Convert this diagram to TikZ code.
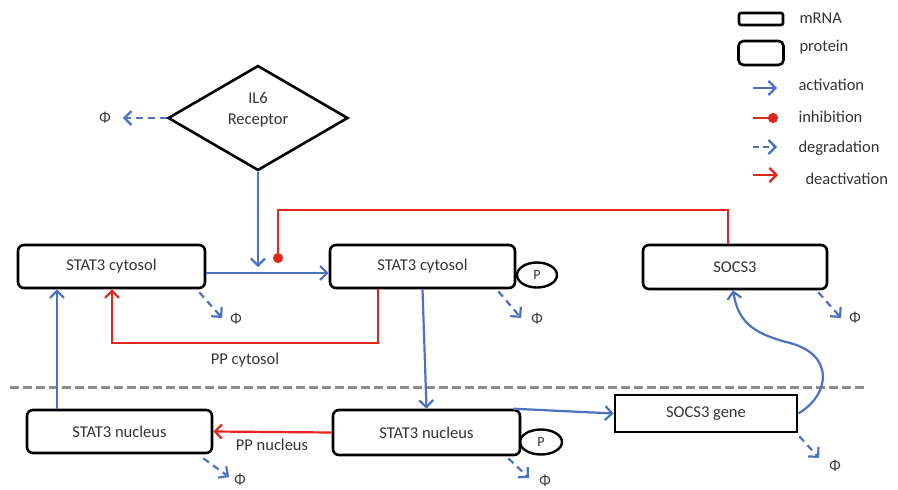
\documentclass[tikz,border=0pt]{standalone}
\usepackage{fontspec}
\setmainfont{Carlito}
\usetikzlibrary{arrows.meta,shapes.geometric}
\definecolor{actblue}{HTML}{4A72C0}
\definecolor{inhred}{HTML}{E3261C}
\definecolor{txtgray}{HTML}{333333}
\begin{document}
\begin{tikzpicture}[x=1pt,y=-1pt,
  every node/.style={text=txtgray,font=\fontsize{16.5}{19}\selectfont},
  protein/.style={draw=black,line width=2.6pt,rounded corners=6pt,minimum height=43pt,inner sep=0pt},
  mrna/.style={draw=black,line width=2.6pt,minimum height=37pt,inner sep=0pt},
  phos/.style={draw=black,line width=2.4pt,ellipse,minimum width=40pt,minimum height=25pt,inner sep=0pt},
  phi/.style={font=\fontsize{15}{17}\selectfont,inner sep=0pt},
  tip/.style={-{Straight Barb[length=7pt,width=14pt,line width=2.2pt]}},
  act/.style={draw=actblue,line width=2.2pt,tip},
  deact/.style={draw=inhred,line width=2.2pt,tip},
  inh/.style={draw=inhred,line width=2.2pt,-{Circle[length=10pt]}},
  degr/.style={draw=actblue,line width=2.2pt,dash pattern=on 7pt off 5pt,tip},
  membrane/.style={draw=gray!90,line width=3pt,dash pattern=on 9pt off 4pt}]
\useasboundingbox (0,0) rectangle (898,490);

% legend
\node[draw=black,line width=2.6pt,rounded corners=2pt,minimum width=44pt,minimum height=12pt,inner sep=0pt] (lgm) at (761,19) {};
\node[anchor=west] (lgmt) at (796,18) {mRNA};
\node[protein,minimum width=45pt,minimum height=24pt,rounded corners=5pt] (lgp) at (761,53) {};
\node[anchor=west] (lgpt) at (796,47) {protein};
\coordinate (la) at (753,88);
\draw[act] (la) -- ++(24,0);
\node[anchor=west] (lat) at (795,85) {activation};
\coordinate (li) at (753,118);
\draw[inh] (li) -- ++(25,0);
\node[anchor=west] (lit) at (795,117) {inhibition};
\coordinate (ld) at (753,147);
\draw[degr,dash pattern=on 6pt off 4pt] (ld) -- ++(24,0);
\node[anchor=west] (ldt) at (795,148) {degradation};
\coordinate (lr) at (753,175);
\draw[deact] (lr) -- ++(25,0);
\node[anchor=west] (lrt) at (802,179) {deactivation};

% receptor
\node[draw=black,line width=2.6pt,diamond,minimum width=180pt,minimum height=105pt,inner sep=0pt] (il6) at (258,118) {};
\node[align=center,inner sep=0pt,font=\fontsize{16.5}{21}\selectfont] (il6t) at (258,110) {IL6\\Receptor};
\node[phi] (phiR) at (105,118) {Φ};

% cytosol species
\node[protein,minimum width=187pt] (sc1) at (111.5,266.5) {STAT3 cytosol};
\node[protein,minimum width=185pt] (sc2) at (422.5,266.5) {STAT3 cytosol};
\node[phos] (p1) at (537,275) {\fontsize{14}{16}\selectfont P};
\node[protein,minimum width=184pt,minimum height=44pt] (socs) at (735,267) {SOCS3};
\node[phi] (phi1) at (236,319) {Φ};
\node[phi] (phi2) at (537,319) {Φ};
\node[phi] (phi3) at (855,318) {Φ};
\node (ppc) at (245,360) {PP cytosol};

% membrane
\coordinate (memL) at (10,387);
\coordinate (memR) at (865,387);
\draw[membrane] (memL) -- (memR);

% nuclear species
\node[protein,minimum width=185pt] (sn1) at (119.5,431.5) {STAT3 nucleus};
\node[protein,minimum width=187pt,minimum height=45pt] (sn2) at (426.5,432.5) {STAT3 nucleus};
\node[phos,minimum width=42pt] (p2) at (541,442) {\fontsize{14}{16}\selectfont P};
\node[mrna,minimum width=182pt] (gene) at (706,413.5) {SOCS3 gene};
\node[phi] (phi4) at (240,480) {Φ};
\node[phi] (phi5) at (545,481) {Φ};
\node[phi] (phi6) at (835,466) {Φ};
\node (ppn) at (272,445) {PP nucleus};

% degradation
\draw[degr] (il6.west) -- ([shift={(12,0)}]phiR.east);
\draw[degr] ([shift={(-7,3)}]sc1.south east) -- ([shift={(-8,-1)}]phi1.west);
\draw[degr] ([shift={(-18,2)}]sc2.south east) -- ([shift={(-10,-1)}]phi2.west);
\draw[degr] ([shift={(-10,2)}]socs.south east) -- ([shift={(-8,0)}]phi3.west);
\draw[degr] ([shift={(-10,4)}]sn1.south east) -- ([shift={(-5,-3)}]phi4.west);
\draw[degr] ([shift={(-13,2)}]sn2.south east) -- ([shift={(-10,-3)}]phi5.west);
\draw[degr] ([shift={(1,3)}]gene.south east) -- ([shift={(-10,-8)}]phi6.west);

% activation by the receptor and phosphorylation
\coordinate (actT) at (258,267);
\draw[act] (il6.south) -- (actT);
\draw[act] ([yshift=-6.5pt]sc1.east) -- ([yshift=-6.5pt]sc2.west);

% SOCS3 inhibition of phosphorylation
\coordinate (redTop) at (278,210);
\coordinate (inhT) at (278,263);
\draw[inh] ([xshift=-7pt]socs.north) |- (redTop) -- (inhT);

% cytosolic dephosphorylation
\draw[deact] ([xshift=-44.5pt]sc2.south) -- ++(0,54) -| ([xshift=0.5pt]sc1.south);

% nuclear import and export
\draw[act] (sc2.south) -- (sn2.north);
\draw[act] ([xshift=-62.5pt]sn1.north) -- ([xshift=-54.5pt]sc1.south);

% nuclear dephosphorylation
\draw[deact] (sn2.west) -- (sn1.east);

% transcription and translation of SOCS3
\draw[act] ([xshift=-8pt]sn2.north east) -- (gene.west);
\draw[act] (gene.east) .. controls (830,395) and (835,355) .. (790,343)
  .. controls (750,333) and (738,320) .. ([xshift=-2pt]socs.south);
\end{tikzpicture}
\end{document}
